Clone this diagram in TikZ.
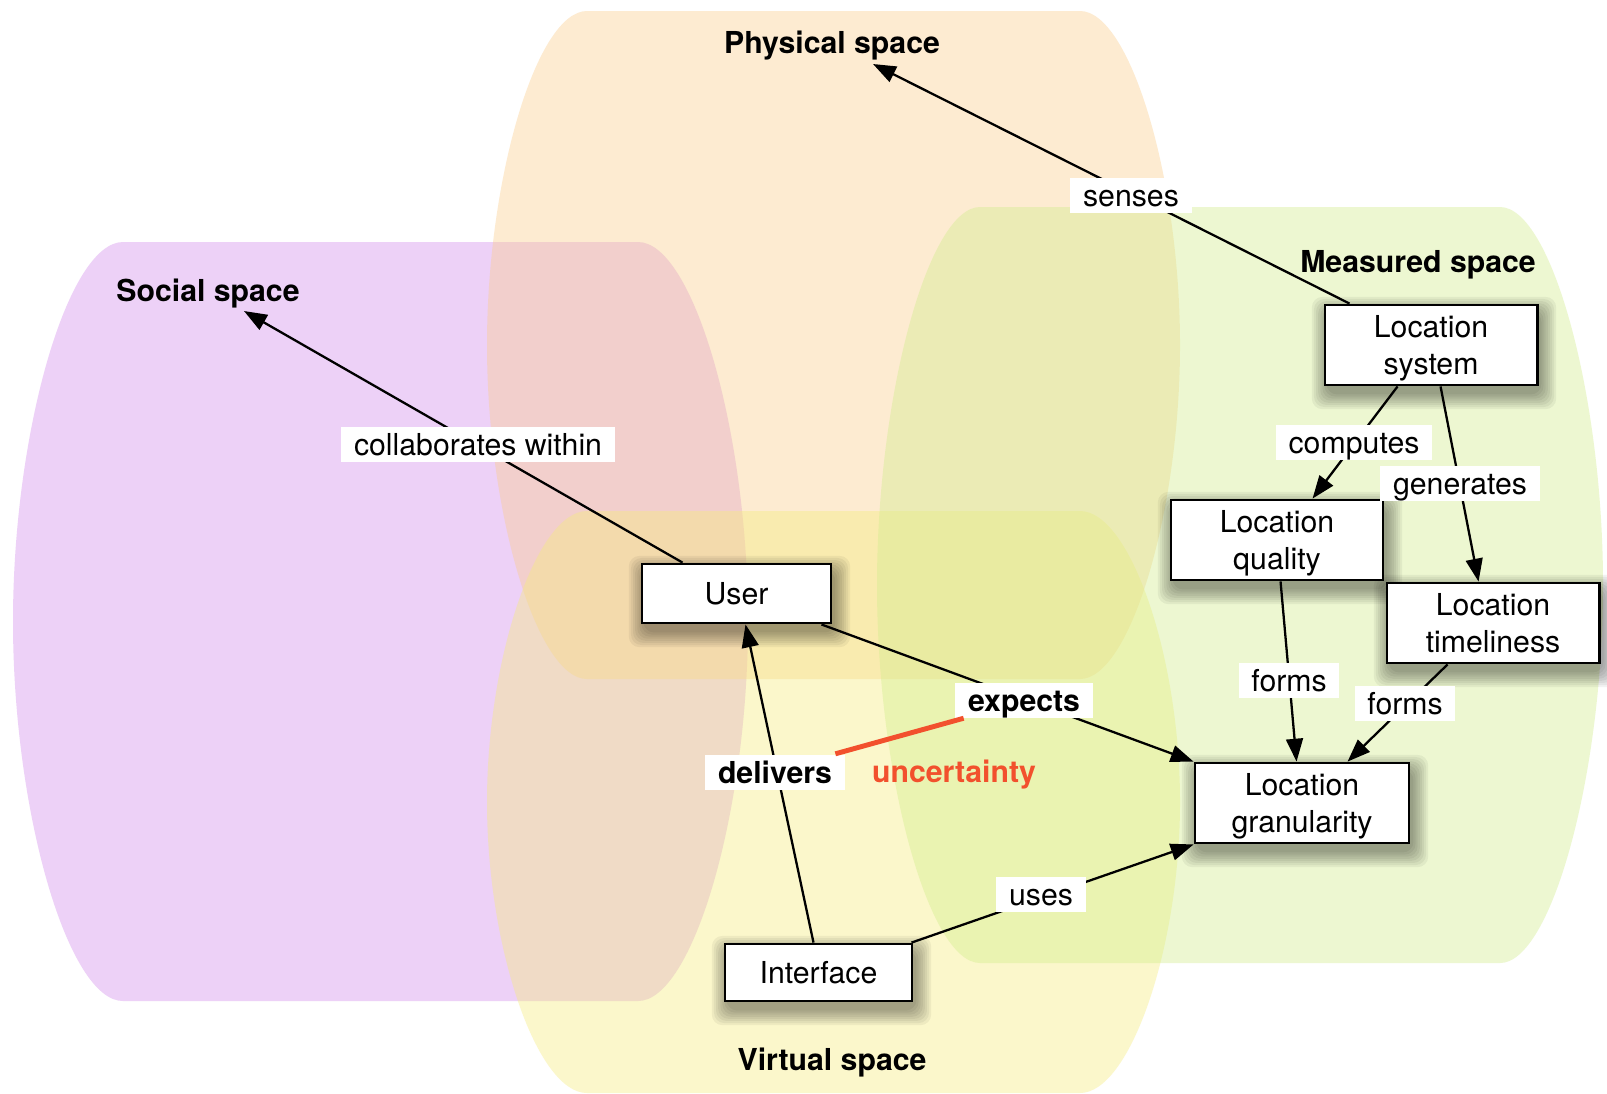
\documentclass[tikz,border=0pt]{standalone}
\usepackage{fontspec}
\setmainfont{TeX Gyre Heros}
\usetikzlibrary{arrows.meta,calc}

\definecolor{socialfill}{RGB}{210,140,235}
\definecolor{physfill}{RGB}{250,205,140}
\definecolor{virtfill}{RGB}{245,235,125}
\definecolor{measfill}{RGB}{210,237,140}
\definecolor{uncert}{RGB}{242,80,45}

\pgfdeclarelayer{back}
\pgfdeclarelayer{shade}
\pgfsetlayers{back,shade,main}

% Rounded "space" region: #1,#2 = top-left, #3,#4 = bottom-right, #5 = corner width, #6 = style
\newcommand\spaceblob[6]{%
  \pgfmathsetmacro\spcMid{(#2+#4)/2}%
  \pgfmathsetmacro\spcHalf{(#4-#2)/2}%
  \fill[#6] ({#1+#5},#2) -- ({#3-#5},#2)
    .. controls ({#3-0.5*#5},#2) and (#3,{\spcMid-0.5*\spcHalf}) .. (#3,\spcMid)
    .. controls (#3,{\spcMid+0.5*\spcHalf}) and ({#3-0.5*#5},#4) .. ({#3-#5},#4)
    -- ({#1+#5},#4)
    .. controls ({#1+0.5*#5},#4) and (#1,{\spcMid+0.5*\spcHalf}) .. (#1,\spcMid)
    .. controls (#1,{\spcMid-0.5*\spcHalf}) and ({#1+0.5*#5},#2) .. cycle;%
}

% Soft drop shadow under a concept box, built from stacked translucent rectangles
\newcommand\boxshade[1]{%
  \begin{pgfonlayer}{shade}
    \foreach \g in {0,...,7}{%
      \fill[black, opacity=0.05, rounded corners=3pt]
        ($(#1.south west)+({3-2.1*\g},{8+2.1*\g})$) rectangle
        ($(#1.north east)+({3+2.1*\g},{8-2.1*\g})$);
    }
  \end{pgfonlayer}%
}

\begin{document}
\begin{tikzpicture}[x=0.01cm,y=-0.01cm,
  every node/.style={font=\fontsize{8.6pt}{10.3pt}\selectfont},
  concept/.style={draw=black, line width=0.8pt, fill=white, align=center,
    inner sep=0pt, text depth=0pt},
  relation/.style={fill=white, inner xsep=3.6pt, inner ysep=0pt,
    text height=6.8pt, text depth=0pt, minimum height=0.35cm},
  spacetitle/.style={font=\fontsize{8.6pt}{10.3pt}\selectfont\bfseries},
  link/.style={line width=0.65pt, -{Triangle[length=6.5pt,width=4.8pt]}},
]
\useasboundingbox (0,0) rectangle (1607,1093);

% the four spaces
\begin{pgfonlayer}{back}
\fill[white] (0,0) rectangle (1607,1093);
\spaceblob{13}{242}{748}{1001}{110}{socialfill, fill opacity=0.4}
\spaceblob{487}{11}{1180}{679}{100}{physfill, fill opacity=0.4}
\spaceblob{487}{511}{1180}{1093}{100}{virtfill, fill opacity=0.4}
\spaceblob{877}{207}{1603}{963}{103}{measfill, fill opacity=0.4}
\end{pgfonlayer}

% space titles
\node[spacetitle] (physical) at (832,46) {Physical space};
\node[spacetitle] (social) at (208,294) {Social space};
\node[spacetitle] (measured) at (1418,265) {Measured space};
\node[spacetitle] (virtual) at (832,1062) {Virtual space};
\coordinate (physTip) at (873,64);
\coordinate (socialTip) at (244,311);

% concepts
\node[concept, minimum width=1.89cm, minimum height=0.59cm] (user) at (736.5,593.5) {User};
\node[concept, minimum width=1.87cm, minimum height=0.57cm] (iface) at (818.5,972.5) {Interface};
\node[concept, minimum width=2.12cm, minimum height=0.80cm] (locsys) at (1431,345) {Location\\system};
\node[concept, minimum width=2.12cm, minimum height=0.80cm] (locqual) at (1277,540) {Location\\quality};
\node[concept, minimum width=2.12cm, minimum height=0.80cm] (loctime) at (1493,623) {Location\\timeliness};
\node[concept, minimum width=2.14cm, minimum height=0.80cm] (locgran) at (1302,803) {Location\\granularity};
\boxshade{user}
\boxshade{iface}
\boxshade{locsys}
\boxshade{locqual}
\boxshade{loctime}
\boxshade{locgran}

% relations
\draw[link] ($(locsys.north west)+(26,0)$) -- (physTip);
\draw[link] ($(user.north west)+(42,0)$) -- (socialTip);
\draw[link] ($(locsys.south west)+(74,0)$) -- ($(locqual.north west)+(143,0)$);
\draw[link] ($(locsys.south west)+(117,0)$) -- ($(loctime.north west)+(93,0)$);
\draw[link] ($(locqual.south west)+(111,0)$) -- ($(locgran.north west)+(103,0)$);
\draw[link] ($(loctime.south west)+(62,0)$) -- ($(locgran.north west)+(154,0)$);
\draw[link] ($(user.south east)+(-11,0)$) -- (locgran.north west);
\draw[link] ($(iface.north east)+(-2,0)$) -- (locgran.south west);
\draw[link] ($(iface.north)+(-5,0)$) -- ($(user.south)+(9,0)$);

% relation labels
\node[relation] (senses) at (1131,195) {senses};
\node[relation] (collab) at (478,444) {collaborates within};
\node[relation] (computes) at (1354,442) {computes};
\node[relation] (generates) at (1460,483) {generates};
\node[relation] (formsA) at (1289,680) {forms};
\node[relation] (formsB) at (1405,703) {forms};
\node[relation] (uses) at (1041,894) {uses};
\node[relation, font=\fontsize{8.6pt}{10.3pt}\selectfont\bfseries] (expects) at (1024,700) {expects};
\node[relation, font=\fontsize{8.6pt}{10.3pt}\selectfont\bfseries] (delivers) at (775,772) {delivers};

% the gap between what is delivered and what is expected
\draw[uncert, line width=1.4pt] ($(delivers.north east)+(-10,0)$) -- ($(expects.south west)+(9,0)$);
\node[text=uncert, font=\fontsize{8.6pt}{10.3pt}\selectfont\bfseries] (uncertainty) at (954,775) {uncertainty};
\end{tikzpicture}
\end{document}
